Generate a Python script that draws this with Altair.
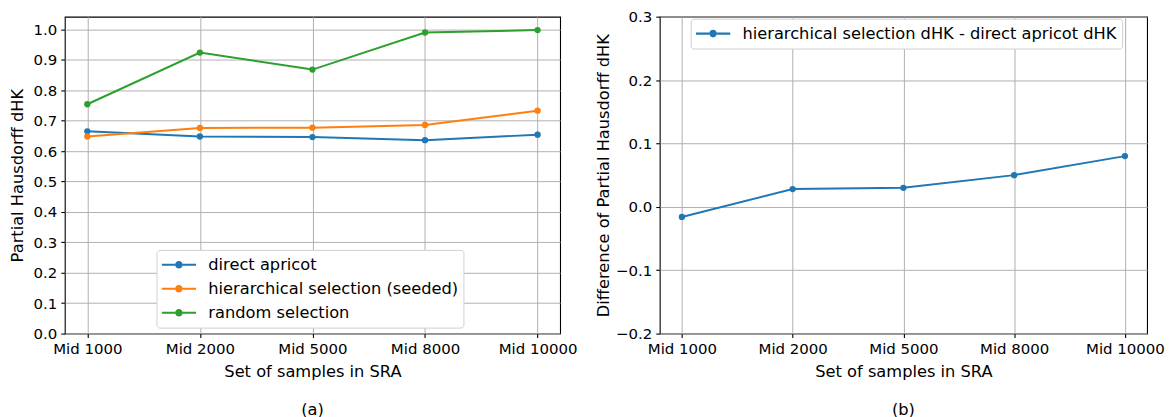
import altair as alt
import pandas as pd

categories = ["Mid 1000", "Mid 2000", "Mid 5000", "Mid 8000", "Mid 10000"]
direct_apricot = [0.665, 0.648, 0.646, 0.636, 0.654]
hierarchical_seeded = [0.648, 0.676, 0.677, 0.686, 0.733]
random_selection = [0.754, 0.924, 0.868, 0.990, 0.998]
difference = [-0.016, 0.028, 0.030, 0.050, 0.080]

series_names = ["direct apricot", "hierarchical selection (seeded)", "random selection"]
series_colors = ["#1f77b4", "#ff7f0e", "#2ca02c"]
diff_name = "hierarchical selection dHK - direct apricot dHK"
left_ticks = [0.0, 0.1, 0.2, 0.3, 0.4, 0.5, 0.6, 0.7, 0.8, 0.9, 1.0]
right_ticks = [-0.2, -0.1, 0.0, 0.1, 0.2, 0.3]

rows = []
for name, vals in zip(series_names, [direct_apricot, hierarchical_seeded, random_selection]):
    for c, v in zip(categories, vals):
        rows.append({"set": c, "value": v, "series": name})
left_df = pd.DataFrame(rows)
right_df = pd.DataFrame({"set": categories, "value": difference, "series": [diff_name] * len(categories)})

FONT = "DejaVu Sans"
SYMBOL = ("M-1,-0.06 L-0.22,-0.06 L-0.22,0.06 L-1,0.06 Z "
          "M0.22,-0.06 L1,-0.06 L1,0.06 L0.22,0.06 Z "
          "M-0.22,0 A0.22,0.22 0 1,1 0.22,0 A0.22,0.22 0 1,1 -0.22,0 Z")

H = 318
W_LEFT, W_RIGHT = 497, 489

def xenc():
    return alt.X("set:N", sort=categories,
                 scale=alt.Scale(type="point", padding=0.2),
                 axis=alt.Axis(title="Set of samples in SRA", labelAngle=0, titlePadding=7))

def legend(x, y):
    return alt.Legend(title=None, orient="none", legendX=x, legendY=y,
                      symbolType=SYMBOL, symbolSize=1190, symbolStrokeWidth=0,
                      labelFontSize=16.3, labelFont=FONT, labelColor="black",
                      fillColor="white", strokeColor="#d0d0d0", cornerRadius=3,
                      padding=5, clipHeight=20, rowPadding=4, labelOffset=12,
                      labelLimit=600, symbolOpacity=1)

def caption(t):
    return alt.TitleParams(t, orient="bottom", offset=22, fontSize=16.3, font=FONT,
                           fontWeight="normal", color="black")

left_y = alt.Y("value:Q", scale=alt.Scale(domain=[0, 1.042], nice=False, zero=False),
               axis=alt.Axis(title="Partial Hausdorff dHK", values=left_ticks, format=".1f",
                             titlePadding=8))
left_color = alt.Color("series:N", sort=series_names,
                       scale=alt.Scale(domain=series_names, range=series_colors),
                       legend=legend(92, 234))
left_base = alt.Chart(left_df)
left = alt.layer(
    left_base.mark_line(strokeWidth=2).encode(x=xenc(), y=left_y, color=left_color, detail="series:N"),
    left_base.mark_point(filled=True, size=40, opacity=1).encode(x=xenc(), y=left_y, color=left_color),
).properties(width=W_LEFT, height=H, title=caption("(a)"))

right_y = alt.Y("value:Q", scale=alt.Scale(domain=[-0.2, 0.3], nice=False, zero=False),
                axis=alt.Axis(title="Difference of Partial Hausdorff dHK",
                              values=right_ticks, format=".1f", titlePadding=4))
right_color = alt.Color("series:N", scale=alt.Scale(domain=[diff_name], range=["#1f77b4"]),
                        legend=legend(31, 2))
right_base = alt.Chart(right_df)
right = alt.layer(
    right_base.mark_line(strokeWidth=2).encode(x=xenc(), y=right_y, color=right_color),
    right_base.mark_point(filled=True, size=40, opacity=1).encode(x=xenc(), y=right_y, color=right_color),
).properties(width=W_RIGHT, height=H, title=caption("(b)"))

chart = alt.hconcat(
    left, right, spacing=17, background="white",
    padding={"top": 0, "left": 0, "right": 0, "bottom": 0},
).resolve_scale(
    color="independent"
).configure_view(
    stroke="black", strokeWidth=1.1
).configure_axis(
    labelFont=FONT, titleFont=FONT, labelFontSize=15, titleFontSize=16.3,
    labelColor="black", titleColor="black", titleFontWeight="normal",
    grid=True, gridColor="#b0b0b0", gridWidth=1, domain=False,
    tickColor="black", tickSize=4, tickWidth=1.1, labelPadding=4,
)

chart.save("out.html", embed_options={"renderer": "svg", "actions": False})
